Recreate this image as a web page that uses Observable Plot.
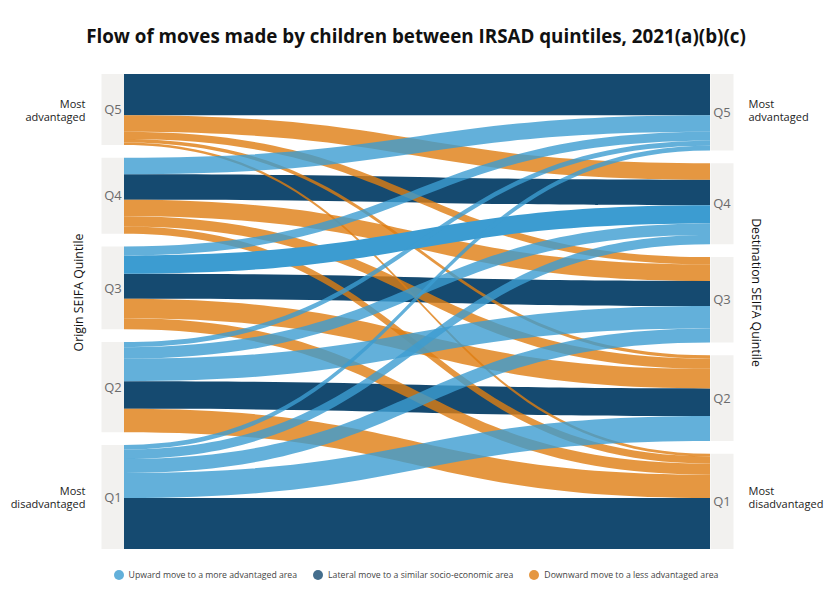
<!DOCTYPE html>
<html>
<head>
<meta charset="utf-8">
<script src="https://cdn.jsdelivr.net/npm/d3@7"></script>
<script src="https://cdn.jsdelivr.net/npm/@observablehq/plot@0.6"></script>
<style>
  html, body { margin: 0; padding: 0; background: #fff; }
  #page { position: relative; width: 832px; height: 602px; font-family: "Open Sans", sans-serif; color: #222; }
  #title { position: absolute; left: 0; top: 22px; width: 832px; text-align: center; font-weight: 700; font-size: 18.8px; line-height: 28px; color: #111; }
  #chart { position: absolute; left: 0; top: 60px; }
  #legend { position: absolute; left: 0; top: 566px; width: 832px; display: flex; justify-content: center; gap: 16px; font-size: 8.7px; color: #444; line-height: 18px; }
  .item { display: flex; align-items: center; gap: 5px; }
  .dot { width: 10px; height: 10px; border-radius: 50%; display: inline-block; }
</style>
</head>
<body>
<div id="page">
  <div id="title">Flow of moves made by children between IRSAD quintiles, 2021(a)(b)(c)</div>
  <div id="chart"></div>
  <div id="legend"></div>
</div>
<script>
// Quintiles, most advantaged first (top of each column)
const quintiles = ["Q5", "Q4", "Q3", "Q2", "Q1"];

// Share of all moves (%) from one origin quintile to each destination, Q5 → Q1
const fromQ5 = [9.7, 3.9, 1.7, 0.8, 0.6];
const fromQ4 = [3.9, 6.0, 3.9, 2.4, 1.7];
const fromQ3 = [2.1, 4.3, 5.9, 4.6, 2.6];
const fromQ2 = [1.2, 2.7, 5.3, 6.5, 5.5];
const fromQ1 = [1.1, 2.2, 3.3, 5.9, 12.0];

const moveTypes = [
  "Upward move to a more advantaged area",
  "Lateral move to a similar socio-economic area",
  "Downward move to a less advantaged area"
];
const moveColours = ["#3c9cd1", "#154a70", "#de7d12"];
const legendColours = ["#63b0da", "#446e8d", "#e59741"];

const endLabels = [
  {q: "Q5", text: "Most\nadvantaged"},
  {q: "Q1", text: "Most\ndisadvantaged"}
];

// Vertical gap between stacked quintiles, in percentage points
const nodeGap = 3;

// ---- Sankey layout (origin column at x = 0, destination column at x = 1)
const matrix = [fromQ5, fromQ4, fromQ3, fromQ2, fromQ1];
const outTotals = matrix.map(r => d3.sum(r));
const inTotals = quintiles.map((_, j) => d3.sum(matrix, r => r[j]));
const stackTops = totals => totals.map((_, i) => d3.sum(totals.slice(0, i)) + i * nodeGap);
const leftTop = stackTops(outTotals);
const rightTop = stackTops(inTotals);
const yMax = d3.sum(outTotals) + (quintiles.length - 1) * nodeGap;

const nodes = [
  ...quintiles.map((q, i) => ({q, side: 0, y1: leftTop[i], y2: leftTop[i] + outTotals[i]})),
  ...quintiles.map((q, j) => ({q, side: 1, y1: rightTop[j], y2: rightTop[j] + inTotals[j]}))
];

const links = [];
matrix.forEach((row, i) => row.forEach((v, j) => {
  const s0 = leftTop[i] + d3.sum(row.slice(0, j));
  const t0 = rightTop[j] + d3.sum(matrix.slice(0, i), r => r[j]);
  const type = j < i ? moveTypes[0] : j === i ? moveTypes[1] : moveTypes[2];
  // lateral moves and the Q3 → Q4 flow are drawn solid, the rest translucent
  const opacity = (j === i || (i === 2 && j === 1)) ? 1 : 0.8;
  links.push({id: `${quintiles[i]}-${quintiles[j]}`, type, opacity, order: j === i ? 0 : 1,
              s0, s1: s0 + v, t0, t1: t0 + v});
}));
links.sort((a, b) => a.order - b.order);

// Each link becomes a two-point band drawn with a horizontal bump curve
const bands = links.flatMap(l => [
  {id: l.id, type: l.type, opacity: l.opacity, x: 0, y1: l.s0, y2: l.s1},
  {id: l.id, type: l.type, opacity: l.opacity, x: 1, y1: l.t0, y2: l.t1}
]);

const left = nodes.filter(d => d.side === 0);
const right = nodes.filter(d => d.side === 1);
const mid = d => (d.y1 + d.y2) / 2;
const leftEnds = endLabels.map(e => ({...e, y: mid(left.find(n => n.q === e.q))}));
const rightEnds = endLabels.map(e => ({...e, y: mid(left.find(n => n.q === e.q))}));

const chart = Plot.plot({
  width: 832,
  height: 500,
  marginLeft: 124,
  marginRight: 122,
  marginTop: 14,
  marginBottom: 11,
  style: {fontFamily: "Open Sans, sans-serif", background: "transparent"},
  x: {domain: [0, 1], axis: null},
  y: {domain: [0, yMax], reverse: true, axis: null},
  color: {domain: moveTypes, range: moveColours},
  marks: [
    Plot.ruleX(left, {x: "side", y1: "y1", y2: "y2", stroke: "#f2f1ef", strokeWidth: 23, dx: -11.5}),
    Plot.ruleX(right, {x: "side", y1: "y1", y2: "y2", stroke: "#f2f1ef", strokeWidth: 23, dx: 11.5}),
    Plot.area(bands, {x1: "x", x2: "x", y1: "y1", y2: "y2", z: "id", fill: "type", fillOpacity: "opacity", curve: "bump-x"}),
    Plot.text(left, {x: "side", y: mid, text: "q", dx: -11.5, fill: "#6b6b6b", fontSize: 13}),
    Plot.text(right, {x: "side", y: mid, text: "q", dx: 11.5, fill: "#6b6b6b", fontSize: 13}),
    Plot.text(leftEnds, {x: 0, y: "y", text: "text", dx: -39, textAnchor: "end", fill: "#222", fontSize: 11, lineHeight: 1.2}),
    Plot.text(rightEnds, {x: 1, y: "y", text: "text", dx: 38, textAnchor: "start", fill: "#222", fontSize: 11, lineHeight: 1.2}),
    Plot.text(["Origin SEIFA Quintile"], {frameAnchor: "left", textAnchor: "middle", rotate: -90, dx: -45.5, dy: -19.5, fill: "#111", fontSize: 12.3}),
    Plot.text(["Destination SEIFA Quintile"], {frameAnchor: "right", textAnchor: "middle", rotate: 90, dx: 45.5, dy: -19.5, fill: "#111", fontSize: 12.3})
  ]
});
document.getElementById("chart").append(chart);

// Legend below the chart
const legend = document.getElementById("legend");
moveTypes.forEach((t, i) => {
  const item = document.createElement("div");
  item.className = "item";
  const dot = document.createElement("span");
  dot.className = "dot";
  dot.style.background = legendColours[i];
  const label = document.createElement("span");
  label.textContent = t;
  item.append(dot, label);
  legend.append(item);
});
</script>
</body>
</html>
